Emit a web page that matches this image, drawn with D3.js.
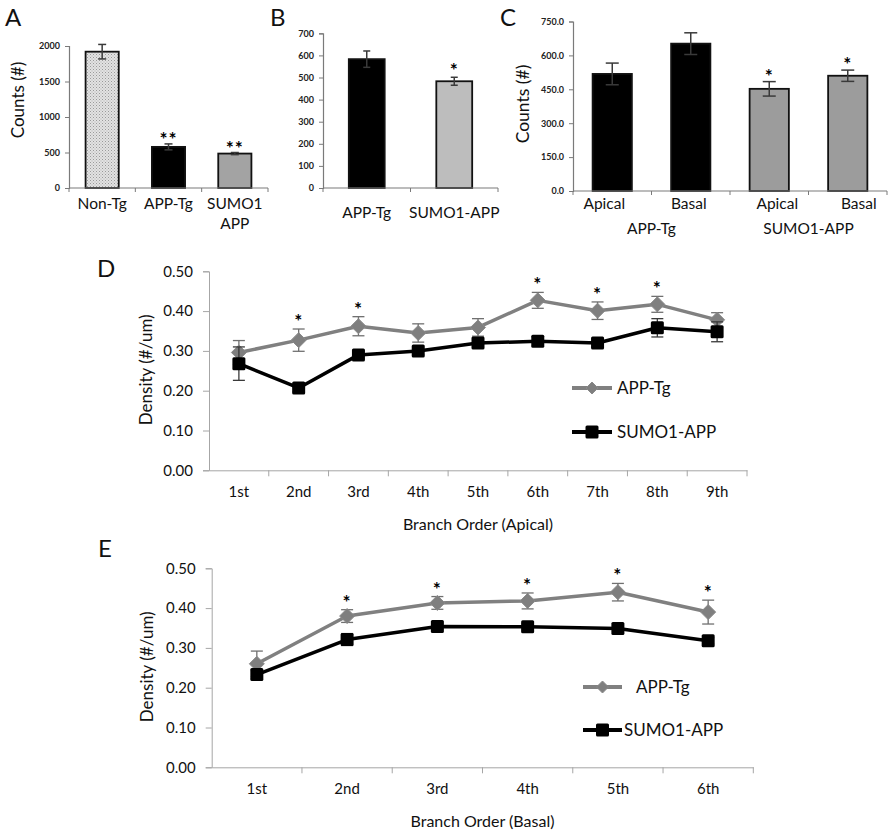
<!DOCTYPE html>
<html><head><meta charset="utf-8">
<script src="https://cdn.jsdelivr.net/npm/d3@7"></script>
<style>body{margin:0;background:#fff}svg{display:block;font-family:Lato,"Open Sans",sans-serif;-webkit-font-smoothing:antialiased}</style>
</head><body>
<svg id="c" width="891" height="834"></svg>
<script>
// ---------- DATA ----------
const aCats = ["Non-Tg", "APP-Tg", "SUMO1 APP"];
const aLabels = [["Non-Tg"], ["APP-Tg"], ["SUMO1", "APP"]];
const aVals = [1920, 579, 485];
const aErr = [102, 42, 15];
const aStars = ["", "**", "**"];
const aTicks = [0, 500, 1000, 1500, 2000];

const bCats = ["APP-Tg", "SUMO1-APP"];
const bVals = [583, 483];
const bErr = [37, 18];
const bStars = ["", "*"];
const bTicks = [0, 100, 200, 300, 400, 500, 600, 700];

const cCats = ["Apical-APP", "Basal-APP", "Apical-SUMO", "Basal-SUMO"];
const cLabels = ["Apical", "Basal", "Apical", "Basal"];
const cGroups = ["APP-Tg", "SUMO1-APP"];
const cVals = [518, 652, 452, 510];
const cErr = [48, 48, 32, 25];
const cStars = ["", "", "*", "*"];
const cTicks = [0, 150, 300, 450, 600, 750];

const dCats = ["1st", "2nd", "3rd", "4th", "5th", "6th", "7th", "8th", "9th"];
const dApp = [0.296, 0.327, 0.362, 0.345, 0.359, 0.427, 0.401, 0.417, 0.378];
const dAppErr = [0.030, 0.028, 0.024, 0.023, 0.022, 0.020, 0.022, 0.020, 0.018];
const dSumo = [0.268, 0.207, 0.290, 0.300, 0.320, 0.324, 0.320, 0.358, 0.348];
const dSumoErr = [0.042, 0.010, 0.010, 0.010, 0.010, 0.010, 0.010, 0.023, 0.025];
const dStars = [0, 1, 1, 0, 0, 1, 1, 1, 0];

const eCats = ["1st", "2nd", "3rd", "4th", "5th", "6th"];
const eApp = [0.260, 0.380, 0.413, 0.418, 0.440, 0.390];
const eAppErr = [0.032, 0.016, 0.016, 0.020, 0.022, 0.030];
const eSumo = [0.233, 0.321, 0.354, 0.353, 0.349, 0.318];
const eSumoErr = [0.010, 0.015, 0.008, 0.008, 0.008, 0.008];
const eStars = [0, 1, 1, 1, 1, 1];
const densTicks = [0, 0.1, 0.2, 0.3, 0.4, 0.5];
const seriesNames = ["APP-Tg", "SUMO1-APP"];

// ---------- DRAW ----------
const svg = d3.select("#c");
const defs = svg.append("defs");
const pat = defs.append("pattern").attr("id", "dots").attr("patternUnits", "userSpaceOnUse")
  .attr("width", 3).attr("height", 3);
pat.append("rect").attr("width", 3).attr("height", 3).attr("fill", "#e2e2e2");
pat.append("rect").attr("x", 0).attr("y", 0).attr("width", 1).attr("height", 1).attr("fill", "#9a9a9a");
pat.append("rect").attr("x", 1.5).attr("y", 1.5).attr("width", 1).attr("height", 1).attr("fill", "#b0b0b0");

function letter(t, x, y) {
  svg.append("text").attr("x", x).attr("y", y).attr("font-size", 24).attr("fill", "#111").text(t);
}
letter("A", 5, 26); letter("B", 270, 26); letter("C", 500, 26); letter("D", 97, 277); letter("E", 98, 557);

function star(g, x, yTop, gap, txt) {
  g.append("text").attr("x", x).attr("y", yTop - gap + 10).attr("text-anchor", "middle")
    .attr("font-size", 19).attr("font-weight", "bold").attr("fill", "#000").attr("letter-spacing", 1).text(txt);
}

function barPanel(o) {
  const g = svg.append("g");
  const x = d3.scaleBand().domain(o.cats).range([o.x0, o.x1]).paddingInner(o.pad).paddingOuter(o.pad / 2);
  const y = d3.scaleLinear().domain([0, o.max]).range([o.y0, o.y1]);
  const ya = g.append("g").attr("transform", `translate(${o.x0},0)`)
    .call(d3.axisLeft(y).tickValues(o.ticks).tickSize(4).tickPadding(5).tickFormat(o.fmt));
  ya.select(".domain").attr("stroke", "#7a7a7a").attr("stroke-width", 1.2);
  ya.selectAll(".tick line").attr("stroke", "#7a7a7a");
  ya.selectAll("text").attr("font-family", "Lato").attr("font-weight", "bold").attr("font-size", 9).attr("fill", "#222");
  g.selectAll(".bar").data(o.vals).join("rect")
    .attr("x", (d, i) => x(o.cats[i])).attr("width", x.bandwidth())
    .attr("y", d => y(d)).attr("height", d => y(0) - y(d))
    .attr("fill", (d, i) => o.fills[i]).attr("stroke", "#111").attr("stroke-width", 1.8);
  const cw = o.cap;
  o.vals.forEach((v, i) => {
    const cx = x(o.cats[i]) + x.bandwidth() / 2;
    const t = y(v + o.err[i]), b = y(v - o.err[i]);
    const col = "#3a3a3a";
    g.append("line").attr("x1", cx).attr("x2", cx).attr("y1", t).attr("y2", b).attr("stroke", col).attr("stroke-width", 1.5);
    g.append("line").attr("x1", cx - cw / 2).attr("x2", cx + cw / 2).attr("y1", t).attr("y2", t).attr("stroke", col).attr("stroke-width", 1.5);
    g.append("line").attr("x1", cx - cw / 2).attr("x2", cx + cw / 2).attr("y1", b).attr("y2", b).attr("stroke", col).attr("stroke-width", 1.5);
    if (o.stars[i]) star(g, cx, t, o.starGap, o.stars[i]);
  });
  g.append("line").attr("x1", o.x0).attr("x2", o.x1).attr("y1", o.y0).attr("y2", o.y0).attr("stroke", "#7a7a7a").attr("stroke-width", 1.2);
  const bounds = [o.x0].concat(o.cats.map(c => x(c) + x.bandwidth() + x.step() * o.pad / 2));
  bounds.forEach(bx => g.append("line").attr("x1", bx).attr("x2", bx).attr("y1", o.y0).attr("y2", o.y0 + 4).attr("stroke", "#7a7a7a"));
  return {g, x, y};
}

// Panel A
const A = barPanel({cats: aCats, vals: aVals, err: aErr, stars: aStars, ticks: aTicks, fmt: d3.format("d"),
  x0: 69, x1: 268, y0: 188, y1: 46, max: 2000, pad: 0.5, cap: 8, starGap: 8,
  fills: ["url(#dots)", "#000", "#a3a3a3"]});
aLabels.forEach((ls, i) => {
  ls.forEach((l, j) => A.g.append("text").attr("x", A.x(aCats[i]) + A.x.bandwidth() / 2).attr("y", 208.5 + j * 20)
    .attr("text-anchor", "middle").attr("font-size", 15.5).attr("fill", "#111").text(l));
});
svg.append("text").attr("transform", "translate(24,100) rotate(-90)").attr("text-anchor", "middle")
  .attr("font-size", 17).attr("fill", "#111").text("Counts (#)");

// Panel B
const B = barPanel({cats: bCats, vals: bVals, err: bErr, stars: bStars, ticks: bTicks, fmt: d3.format("d"),
  x0: 323, x1: 498, y0: 188, y1: 33.3, max: 700, pad: 0.59, cap: 7, starGap: 10,
  fills: ["#000", "#bdbdbd"]});
bCats.forEach(c => B.g.append("text").attr("x", B.x(c) + B.x.bandwidth() / 2).attr("y", 217.5)
  .attr("text-anchor", "middle").attr("font-size", 15.5).attr("fill", "#111").text(c));

// Panel C
const C = barPanel({cats: cCats, vals: cVals, err: cErr, stars: cStars, ticks: cTicks, fmt: d3.format(".1f"),
  x0: 573, x1: 887, y0: 191, y1: 21.5, max: 750, pad: 0.5, cap: 13, starGap: 9,
  fills: ["#000", "#000", "#9c9c9c", "#9c9c9c"]});
cCats.forEach((c, i) => C.g.append("text").attr("x", C.x(c) + C.x.bandwidth() / 2 + [-8, -2, 8, 11][i]).attr("y", 208.5)
  .attr("text-anchor", "middle").attr("font-size", 15.5).attr("fill", "#111").text(cLabels[i]));
cGroups.forEach((gname, i) => {
  const xc = (C.x(cCats[2 * i]) + C.x(cCats[2 * i + 1]) + C.x.bandwidth()) / 2;
  C.g.append("text").attr("x", xc).attr("y", 234).attr("text-anchor", "middle").attr("font-size", 15.5).attr("fill", "#111").text(gname);
});
svg.append("text").attr("transform", "translate(529,104) rotate(-90)").attr("text-anchor", "middle")
  .attr("font-size", 17.5).attr("fill", "#111").text("Counts (#)");

// Line panels
function marker(g, x, y, shape, sc = 1) {
  if (shape === "diamond") {
    const r = 7.5 * sc;
    g.append("path").attr("d", `M${x},${y - r}L${x + r},${y}L${x},${y + r}L${x - r},${y}Z`)
      .attr("fill", "#7f7f7f").attr("stroke", "#8a8a8a").attr("stroke-width", 1);
  } else {
    const s = 13 * sc;
    g.append("rect").attr("x", x - s / 2).attr("y", y - s / 2).attr("width", s).attr("height", s).attr("rx", 1.5)
      .attr("fill", "#000");
  }
}
function linePanel(o) {
  const g = svg.append("g");
  const x = d3.scaleBand().domain(o.cats).range([o.x0, o.x1]);
  const y = d3.scaleLinear().domain([0, 0.5]).range([o.y0, o.y1]);
  const ya = g.append("g").attr("transform", `translate(${o.x0},0)`)
    .call(d3.axisLeft(y).tickValues(densTicks).tickSize(6).tickPadding(10).tickFormat(d3.format(".2f")));
  ya.select(".domain").attr("stroke", "#a6a6a6");
  ya.selectAll(".tick line").attr("stroke", "#a6a6a6");
  ya.selectAll("text").attr("font-family", "Lato").attr("font-size", 15).attr("fill", "#111");
  const xa = g.append("g").attr("transform", `translate(0,${o.y0})`)
    .call(d3.axisBottom(x).tickSize(0).tickPadding(16));
  xa.select(".domain").attr("stroke", "#a6a6a6");
  xa.selectAll("text").attr("font-family", "Lato").attr("font-size", 15).attr("fill", "#111");
  o.cats.forEach(c => g.append("line").attr("x1", x(c) + x.bandwidth()).attr("x2", x(c) + x.bandwidth())
    .attr("y1", o.y0).attr("y2", o.y0 + 6).attr("stroke", "#a6a6a6"));
  const cx = c => x(c) + x.bandwidth() / 2;
  const series = [
    {vals: o.app, err: o.appErr, color: "#808080", ecol: "#707070", shape: "diamond"},
    {vals: o.sumo, err: o.sumoErr, color: "#000", ecol: "#3a3a3a", shape: "square"}
  ];
  series.forEach(s => {
    s.vals.forEach((v, i) => {
      const xx = cx(o.cats[i]), t = y(v + s.err[i]), b = y(v - s.err[i]);
      g.append("line").attr("x1", xx).attr("x2", xx).attr("y1", t).attr("y2", b).attr("stroke", s.ecol).attr("stroke-width", 1.3);
      [t, b].forEach(yy => g.append("line").attr("x1", xx - 6).attr("x2", xx + 6).attr("y1", yy).attr("y2", yy)
        .attr("stroke", s.ecol).attr("stroke-width", 1.3));
    });
    g.append("path").datum(s.vals).attr("fill", "none").attr("stroke", s.color).attr("stroke-width", 3.5)
      .attr("stroke-linejoin", "round")
      .attr("d", d3.line().x((d, i) => cx(o.cats[i])).y(d => y(d)));
    s.vals.forEach((v, i) => marker(g, cx(o.cats[i]), y(v), s.shape));
  });
  o.stars.forEach((st, i) => {
    if (!st) return;
    star(g, cx(o.cats[i]), y(o.app[i] + o.appErr[i]), 11, "*");
  });
  const L = o.legend;
  [0, 1].forEach(k => {
    const ly = L.y[k];
    g.append("line").attr("x1", L.x0).attr("x2", L.x1).attr("y1", ly).attr("y2", ly)
      .attr("stroke", k === 0 ? "#808080" : "#000").attr("stroke-width", 4);
    marker(g, (L.x0 + L.x1) / 2, ly, k === 0 ? "diamond" : "square", k === 0 ? 0.8 : 1);
    g.append("text").attr("x", L.tx[k]).attr("y", ly + 6).attr("font-size", 17).attr("fill", "#111").text(seriesNames[k]);
  });
  svg.append("text").attr("x", (o.x0 + o.x1) / 2).attr("y", o.titleY).attr("text-anchor", "middle")
    .attr("font-size", 16).attr("fill", "#111").text(o.title);
  svg.append("text").attr("transform", `translate(${o.ytx},${(o.y0 + o.y1) / 2 - 1}) rotate(-90)`).attr("text-anchor", "middle")
    .attr("font-size", 17).attr("fill", "#111").text("Density (#/um)");
}

linePanel({cats: dCats, app: dApp, appErr: dAppErr, sumo: dSumo, sumoErr: dSumoErr, stars: dStars,
  x0: 209, x1: 747, y0: 470.3, y1: 271.3, title: "Branch Order (Apical)", titleY: 530, ytx: 152,
  legend: {x0: 572, x1: 612, y: [388, 432], tx: [617, 617]}});
linePanel({cats: eCats, app: eApp, appErr: eAppErr, sumo: eSumo, sumoErr: eSumoErr, stars: eStars,
  x0: 211.7, x1: 753.3, y0: 767.3, y1: 568.3, title: "Branch Order (Basal)", titleY: 827, ytx: 153,
  legend: {x0: 583, x1: 622, y: [687, 730], tx: [636, 624]}});
</script>
</body></html>
